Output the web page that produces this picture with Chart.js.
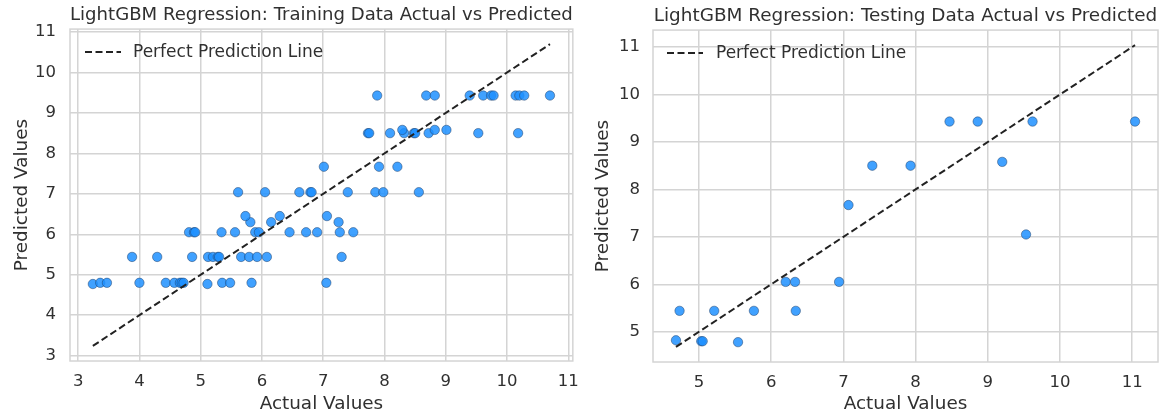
<!DOCTYPE html>
<html>
<head>
<meta charset="utf-8">
<title>LightGBM Regression</title>
<script src="https://cdn.jsdelivr.net/npm/chart.js@4.4.1/dist/chart.umd.min.js"></script>
<style>
  html, body { margin: 0; padding: 0; background: #fff; }
  #wrap { position: relative; width: 1164px; height: 416px; }
  .panel { position: absolute; top: 0; height: 416px; }
  #trainPanel { left: 0; width: 590px; }
  #testPanel { left: 590px; width: 574px; }
</style>
</head>
<body>
<div id="wrap">
  <div class="panel" id="trainPanel"><canvas id="trainChart" width="590" height="416"></canvas></div>
  <div class="panel" id="testPanel"><canvas id="testChart" width="574" height="416"></canvas></div>
</div>
<script>
// Training set: actual vs predicted (LightGBM leaves give repeated predicted levels)
const trainActual = [
  3.24, 3.36, 3.47, 4.00, 4.43, 4.57, 4.66, 4.69, 4.72, 5.11, 5.35, 5.48, 5.83, 7.05,
  3.88, 4.29, 4.86, 5.12, 5.20, 5.28, 5.30, 5.66, 5.79, 5.92, 6.08, 7.30,
  4.81, 4.89, 4.91, 5.34, 5.56, 5.89, 5.95, 6.45, 6.72, 6.90, 7.27, 7.49,
  5.81, 6.15, 7.25,
  5.73, 6.29, 7.06,
  5.61, 6.05, 6.61, 6.79, 6.81, 7.40, 7.85, 7.98, 8.56,
  7.01, 7.91, 8.21,
  7.73, 7.75, 8.09, 8.32, 8.48, 8.50, 8.72, 9.53, 10.18,
  8.29, 8.82, 9.01,
  7.88, 8.68, 8.82, 9.39, 9.61, 9.74, 9.78, 10.14, 10.20, 10.28, 10.70
];
const trainPredicted = [
  4.77, 4.80, 4.80, 4.80, 4.80, 4.80, 4.80, 4.80, 4.80, 4.77, 4.80, 4.80, 4.80, 4.80,
  5.44, 5.44, 5.44, 5.44, 5.44, 5.44, 5.44, 5.44, 5.44, 5.44, 5.44, 5.44,
  6.05, 6.05, 6.05, 6.05, 6.05, 6.05, 6.05, 6.05, 6.05, 6.05, 6.05, 6.05,
  6.30, 6.30, 6.30,
  6.45, 6.45, 6.45,
  7.04, 7.04, 7.04, 7.04, 7.04, 7.04, 7.04, 7.04, 7.04,
  7.67, 7.67, 7.67,
  8.50, 8.50, 8.50, 8.50, 8.50, 8.50, 8.50, 8.50, 8.50,
  8.58, 8.58, 8.58,
  9.43, 9.43, 9.43, 9.43, 9.43, 9.43, 9.43, 9.43, 9.43, 9.43, 9.43
];

// Testing set
const testActual = [
  4.68, 4.73, 5.03, 5.05, 5.21, 5.54, 5.76, 6.20, 6.33, 6.34,
  6.94, 7.07, 7.40, 7.93, 8.47, 8.86, 9.20, 9.53, 9.62, 11.04
];
const testPredicted = [
  4.82, 5.44, 4.80, 4.80, 5.44, 4.78, 5.44, 6.05, 6.05, 5.44,
  6.05, 7.67, 8.50, 8.50, 9.43, 9.43, 8.58, 7.05, 9.43, 9.43
];

const tickValues = [3, 4, 5, 6, 7, 8, 9, 10, 11];
const lineLabel = 'Perfect Prediction Line';

const FONT = "'DejaVu Sans', 'Liberation Sans', sans-serif";
const TEXT = '#303030';
const GRID = '#d4d4d4';
const LINE = '#222222';
const DASH = [7, 3.5];

// light frame around the plotting area, like the axes spines
const framePlugin = {
  id: 'frame',
  beforeDatasetsDraw(chart) {
    const { ctx, chartArea: a } = chart;
    ctx.save();
    ctx.strokeStyle = GRID;
    ctx.lineWidth = 1.5;
    ctx.strokeRect(a.left, a.top, a.right - a.left, a.bottom - a.top);
    ctx.restore();
  }
};

// frameless legend in the upper left corner of the plot, dashed handle
const cornerLegend = {
  id: 'cornerLegend',
  afterDraw(chart, args, opts) {
    const { ctx, chartArea: a } = chart;
    const y = a.top + 23;
    const x0 = a.left + opts.inset;
    ctx.save();
    ctx.strokeStyle = LINE;
    ctx.lineWidth = 2;
    ctx.setLineDash(DASH);
    ctx.beginPath();
    ctx.moveTo(x0, y);
    ctx.lineTo(x0 + 36, y);
    ctx.stroke();
    ctx.setLineDash([]);
    ctx.fillStyle = TEXT;
    ctx.font = '17px ' + FONT;
    ctx.textBaseline = 'middle';
    ctx.fillText(chart.data.datasets[0].label, a.left + 63, y);
    ctx.restore();
  }
};

function buildChart(canvasId, title, actual, predicted, cfg) {
  const lo = Math.min(...actual);
  const hi = Math.max(...actual);
  const points = actual.map((x, i) => ({ x, y: predicted[i] }));

  const axis = (isX) => ({
    type: 'linear',
    min: cfg.min,
    max: cfg.max,
    afterBuildTicks: (scale) => {
      scale.ticks = tickValues.filter(v => v >= cfg.min && v <= cfg.max).map(v => ({ value: v }));
    },
    afterFit: (scale) => {
      if (isX) scale.height = cfg.xAxisHeight;
      else scale.width = cfg.yAxisWidth;
    },
    border: { display: false },
    grid: { color: GRID, lineWidth: 1.5, drawTicks: false },
    ticks: {
      color: TEXT,
      font: { family: FONT, size: 16.5 },
      padding: isX ? 11 : cfg.yTickPad,
      callback: v => String(v)
    },
    title: {
      display: true,
      text: isX ? 'Actual Values' : 'Predicted Values',
      color: TEXT,
      font: { family: FONT, size: 18.4 },
      padding: isX ? { top: 0, bottom: 1 } : { top: cfg.yTitlePad, bottom: 0 }
    }
  });

  return new Chart(document.getElementById(canvasId), {
    data: {
      datasets: [
        {
          type: 'line',
          label: lineLabel,
          data: [{ x: lo, y: lo }, { x: hi, y: hi }],
          borderColor: LINE,
          borderWidth: 2,
          borderDash: DASH,
          pointRadius: 0,
          fill: false
        },
        {
          type: 'scatter',
          label: 'points',
          data: points,
          backgroundColor: 'rgba(30, 144, 255, 0.85)',
          borderColor: 'rgba(30, 60, 100, 0.6)',
          borderWidth: 0.8,
          pointRadius: 4.7
        }
      ]
    },
    options: {
      responsive: false,
      animation: false,
      layout: { padding: { left: 0, right: cfg.rightPad, top: 0, bottom: 0 } },
      scales: { x: axis(true), y: axis(false) },
      plugins: {
        title: {
          display: true,
          text: title,
          color: TEXT,
          fullSize: false,
          font: { family: FONT, size: 18.4, weight: 'normal' },
          padding: { top: cfg.titleTop, bottom: cfg.titleBottom }
        },
        legend: { display: false },
        tooltip: { enabled: false },
        cornerLegend: { inset: cfg.legendInset }
      }
    },
    plugins: [framePlugin, cornerLegend]
  });
}

buildChart('trainChart', 'LightGBM Regression: Training Data Actual vs Predicted',
  trainActual, trainPredicted,
  { min: 2.867, max: 11.073, xAxisHeight: 55, yAxisWidth: 70, rightPad: 17,
    yTickPad: 14, yTitlePad: 11, titleTop: 4, titleBottom: 3, legendInset: 15 });

buildChart('testChart', 'LightGBM Regression: Testing Data Actual vs Predicted',
  testActual, testPredicted,
  { min: 4.362, max: 11.358, xAxisHeight: 54, yAxisWidth: 63, rightPad: 6,
    yTickPad: 13, yTitlePad: 2.5, titleTop: 5, titleBottom: 3, legendInset: 14 });
</script>
</body>
</html>
